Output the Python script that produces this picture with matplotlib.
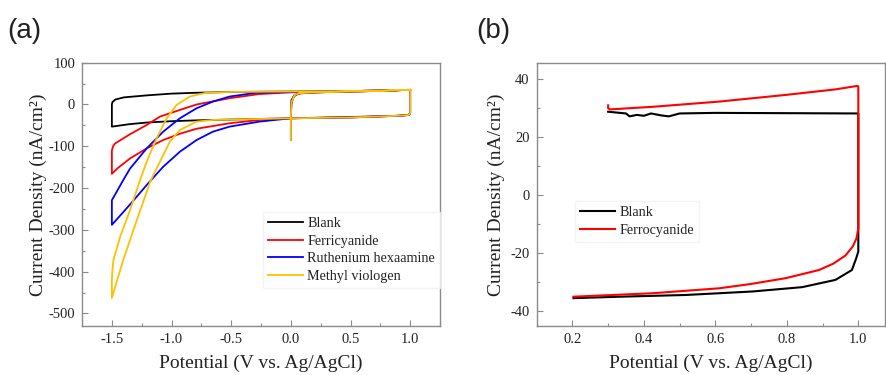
import matplotlib
matplotlib.use("Agg")
import matplotlib.pyplot as plt
from matplotlib.ticker import MultipleLocator

# ---------------- Panel (a) data: potential (V) and current density (nA/cm^2)
blank_v = [0.0, 0.005, 0.03, 0.08, 0.2, 0.5, 0.8, 0.98, 1.0, 1.0, 0.99, 0.9, 0.5, 0.0, -0.5, -0.8,
           -1.0, -1.2, -1.35, -1.45, -1.5, -1.5, -1.495, -1.47, -1.4, -1.2, -1.0, -0.8, -0.5, 0.0, 0.5, 1.0]
blank_i = [-30, 10, 22, 27, 29, 31, 33, 35, 34, -20, -25, -27, -30, -33, -36, -38,
           -40, -43, -47, -51, -53, 0, 6, 12, 17, 22, 26, 28, 30, 31, 32, 35]

ferri_v = [0.0, 0.003, 0.02, 0.06, 0.2, 0.5, 0.8, 0.98, 1.0, 1.0, 0.99, 0.9, 0.5, 0.0, -0.264, -0.514,
           -0.79, -0.93, -1.07, -1.208, -1.347, -1.45, -1.5, -1.5, -1.49, -1.472, -1.347, -1.208, -1.097,
           -0.93, -0.79, -0.514, -0.264, 0.0, 0.5, 1.0]
ferri_i = [-30, 0, 18, 26, 29, 31, 33, 35, 34, -20, -25, -27, -31, -33, -37, -45,
           -58, -70, -85, -105, -129, -152, -166, -110, -100, -93, -71, -49, -29,
           -13, 0, 15, 25, 29, 32, 35]

ruth_v = [0.0, 0.0, 0.005, 0.03, 0.07, 0.2, 0.5, 0.8, 0.98, 1.0, 1.0, 0.99, 0.9, 0.5, 0.0, -0.264,
          -0.514, -0.653, -0.79, -0.93, -1.07, -1.2, -1.35, -1.5, -1.5, -1.472, -1.405, -1.347, -1.208,
          -1.07, -0.93, -0.79, -0.653, -0.514, -0.29, 0.0, 0.5, 1.0]
ruth_i = [-85, -30, 5, 22, 27, 29, 31, 33, 35, 34, -20, -25, -27, -31, -33, -41,
          -53, -65, -85, -113, -149, -190, -240, -288, -229, -215, -181, -153, -105,
          -65, -33, -9, 7, 19, 28, 30, 32, 35]

mv_v = [0.0, 0.0, 0.005, 0.03, 0.07, 0.2, 0.5, 0.8, 0.98, 1.0, 1.0, 0.99, 0.9, 0.5, 0.0, -0.5,
        -0.653, -0.79, -0.93, -1.014, -1.097, -1.18, -1.208, -1.29, -1.405, -1.5, -1.5, -1.495, -1.487,
        -1.43, -1.347, -1.264, -1.208, -1.125, -1.04, -0.958, -0.848, -0.71, -0.5, 0.0, 0.5, 1.0]
mv_i = [-85, -30, 5, 22, 27, 29, 31, 33, 35, 34, -20, -25, -27, -31, -33, -36,
        -37, -41, -61, -89, -137, -185, -209, -276, -372, -463, -420, -395, -372,
        -316, -252, -181, -137, -81, -33, -1, 19, 28, 30, 31, 32, 35]

labels_a = ["Blank", "Ferricyanide", "Ruthenium hexaamine", "Methyl viologen"]
colors_a = ["#000000", "#FF0000", "#0000FF", "#FFC000"]

# ---------------- Panel (b) data
bblank_v = [0.30, 0.35, 0.36, 0.38, 0.40, 0.42, 0.45, 0.47, 0.50, 0.6, 0.8, 1.0, 1.0,
            0.994, 0.982, 0.936, 0.843, 0.704, 0.518, 0.333, 0.203]
bblank_i = [28.6, 28.0, 27.0, 27.5, 27.2, 28.0, 27.3, 27.0, 28.0, 28.2, 28.1, 28.0, -19.6,
            -22.0, -26.0, -29.4, -31.9, -33.4, -34.6, -35.2, -35.7]

ferro_v = [0.30, 0.30, 0.305, 0.425, 0.611, 0.797, 0.936, 0.997, 1.0, 1.0,
           0.995, 0.985, 0.964, 0.93, 0.89, 0.797, 0.7, 0.611, 0.425, 0.203]
ferro_i = [30.8, 29.8, 29.4, 30.3, 32.1, 34.4, 36.3, 37.5, 37.3, -11.6,
           -15.0, -17.8, -21.0, -23.8, -26.0, -28.8, -30.8, -32.3, -34.0, -35.2]

labels_b = ["Blank", "Ferrocyanide"]
colors_b = ["#000000", "#FF0000"]

# ---------------- Figure
plt.rcParams["font.family"] = ["Liberation Serif", "DejaVu Serif"]
txt = "#222222"
spine_c = "#8a8a8a"

fig = plt.figure(figsize=(8.86, 3.75), dpi=100)
axa = fig.add_axes([0.0926, 0.1307, 0.4040, 0.7021])
axb = fig.add_axes([0.6057, 0.1307, 0.3933, 0.7005])


def style(ax):
    for s in ax.spines.values():
        s.set_color(spine_c)
        s.set_linewidth(1.0)
    ax.tick_params(which="both", direction="in", colors=spine_c, labelcolor=txt,
                   labelsize=10.5, top=False, right=False)
    ax.tick_params(which="major", length=4, width=0.8, pad=5)
    ax.tick_params(which="minor", length=2.5, width=0.8)


series_a = [(blank_v, blank_i), (ferri_v, ferri_i), (ruth_v, ruth_i), (mv_v, mv_i)]
for (v, i), lab, c in zip(series_a, labels_a, colors_a):
    axa.plot(v, i, color=c, lw=1.3, label=lab)
axa.set_xlim(-1.75, 1.25)
axa.set_ylim(-530, 100)
axa.xaxis.set_minor_locator(MultipleLocator(0.25))
axa.yaxis.set_minor_locator(MultipleLocator(50))
axa.set_xticks([-1.5, -1.0, -0.5, 0.0, 0.5, 1.0])
axa.set_xticklabels(["-1.5", "-1.0", "-0.5", "0.0", "0.5", "1.0"])
axa.set_yticks([100, 0, -100, -200, -300, -400, -500])
axa.set_yticklabels(["100", "0", "-100", "-200", "-300", "-400", "-500"])
style(axa)
axa.set_xlabel("Potential (V vs. Ag/AgCl)", fontsize=14, color=txt, labelpad=6)
axa.set_ylabel("Current Density (nA/cm²)", fontsize=14, color=txt, labelpad=1)
leg = axa.legend(loc="lower right", bbox_to_anchor=(1.0, 0.145), borderaxespad=0,
                 fontsize=10.2, frameon=True, fancybox=False, edgecolor="#f0f0f0",
                 handlelength=2.5, handletextpad=0.3, labelspacing=0.32, borderpad=0.35)
for t in leg.get_texts():
    t.set_color(txt)

series_b = [(bblank_v, bblank_i), (ferro_v, ferro_i)]
for (v, i), lab, c in zip(series_b, labels_b, colors_b):
    axb.plot(v, i, color=c, lw=1.5, label=lab)
axb.set_xlim(0.1, 1.075)
axb.set_ylim(-45.3, 45.3)
axb.set_xticks([0.2, 0.4, 0.6, 0.8, 1.0])
axb.set_xticklabels(["0.2", "0.4", "0.6", "0.8", "1.0"])
axb.xaxis.set_minor_locator(MultipleLocator(0.1))
axb.set_yticks([40, 20, 0, -20, -40])
axb.set_yticklabels(["40", "20", "0", "-20", "-40"])
axb.yaxis.set_minor_locator(MultipleLocator(10))
style(axb)
axb.set_xlabel("Potential (V vs. Ag/AgCl)", fontsize=14, color=txt, labelpad=6)
axb.set_ylabel("Current Density (nA/cm²)", fontsize=14, color=txt, labelpad=4)
legb = axb.legend(loc="upper left", bbox_to_anchor=(0.11, 0.475), borderaxespad=0,
                  fontsize=10.2, frameon=True, fancybox=False, edgecolor="#f0f0f0",
                  handlelength=2.5, handletextpad=0.3, labelspacing=0.32, borderpad=0.35)
for t in legb.get_texts():
    t.set_color(txt)

fig.text(0.008, 0.917, "(a)", fontsize=20, family=["Liberation Sans", "DejaVu Sans"],
         color=txt, va="center", ha="left")
fig.text(0.537, 0.917, "(b)", fontsize=20, family=["Liberation Sans", "DejaVu Sans"],
         color=txt, va="center", ha="left")

fig.savefig("out.png", dpi=100)
